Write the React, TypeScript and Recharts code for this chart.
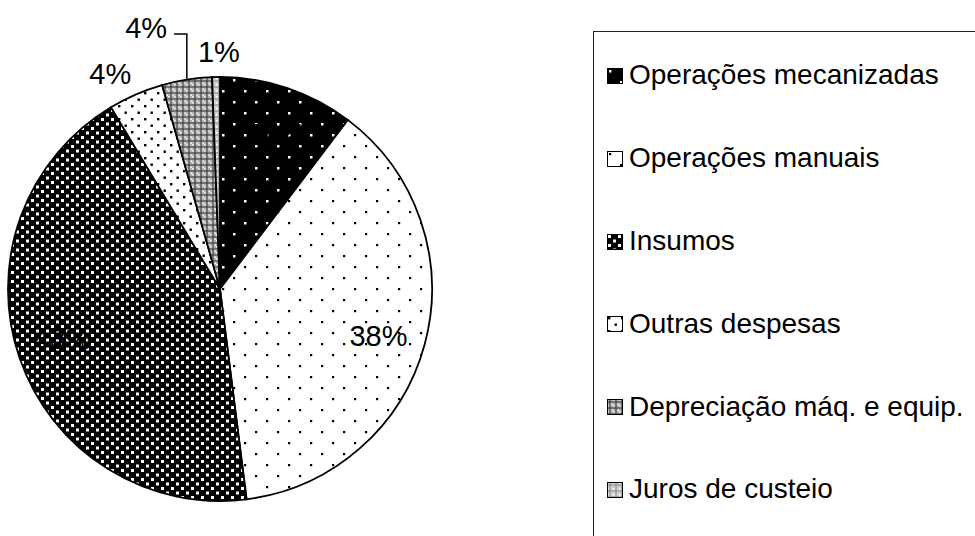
import React from 'react';
import { PieChart, Pie, Cell, Legend } from 'recharts';

const categories = [
  'Operações mecanizadas',
  'Operações manuais',
  'Insumos',
  'Outras despesas',
  'Depreciação máq. e equip.',
  'Juros de custeio'
];
const shares = [10.3, 37.7, 43.4, 4.2, 3.8, 0.6];
const patternIds = ['patMec', 'patMan', 'patIns', 'patOut', 'patDep', 'patJur'];

const data = categories.map((name, i) => ({ name, value: shares[i] }));

const FONT = '"Liberation Sans", Arial, sans-serif';
const RADIAN = Math.PI / 180;

// label radius (x outerRadius) and angle nudge per slice, Excel "best fit" style
const labelPlace = [
  { r: 0.78, shift: -1.6 },
  { r: 0.78, shift: -1.6 },
  { r: 0.78, shift: -1.6 },
  { r: 1.14, shift: 3.6 },
  { r: 1.28, shift: 6.8 },
  { r: 1.12, shift: -0.8 }
];

const renderLabel = (props: any) => {
  const { cx, cy, midAngle, outerRadius, percent, index } = props;
  const p = labelPlace[index];
  const a = (midAngle + p.shift) * RADIAN;
  const x = cx + outerRadius * p.r * Math.cos(a);
  const y = cy - outerRadius * p.r * Math.sin(a);
  const text = `${Math.round(percent * 100)}%`;
  let leader = null;
  if (index === 4) {
    const ex = cx + outerRadius * Math.cos(midAngle * RADIAN);
    const ey = cy - outerRadius * Math.sin(midAngle * RADIAN);
    leader = <polyline points={`${ex},${ey} ${ex},${y + 6} ${x + 28},${y + 6}`} fill="none" stroke="#000" strokeWidth={1.5} />;
  }
  return <g key={`lbl-${index}`}>
      {leader}
      <text x={x} y={y} textAnchor="middle" dominantBaseline="central" fill="#000" fontFamily={FONT} fontSize={29}>
        {text}
      </text>
    </g>;
};

const renderLegend = () => {
  return <div style={{
    boxSizing: 'border-box',
    width: 420,
    height: 540,
    border: '1px solid #222',
    background: '#fff',
    position: 'relative',
    fontFamily: FONT,
    fontSize: 28,
    color: '#000'
  }}>
      {categories.map((name, i) => {
      const base = 85 + 82.8 * i - 32;
      return <div key={name}>
            <svg width={16} height={16} style={{ position: 'absolute', left: 13, top: base - 17 }}>
              <rect x={0.5} y={0.5} width={15} height={15} fill={`url(#${patternIds[i]})`} stroke="#000" strokeWidth={1} />
            </svg>
            <span style={{ position: 'absolute', left: 35, top: base - 23.7, lineHeight: '28px', whiteSpace: 'nowrap' }}>
              {name}
            </span>
          </div>;
    })}
    </div>;
};

export default function App() {
  return <div style={{ position: 'relative', width: 975, height: 536, overflow: 'hidden', background: '#fff' }}>
      <style>{`body{margin:0;overflow:hidden}`}</style>
      <PieChart width={975} height={536} margin={{ top: 0, right: 0, bottom: 0, left: 0 }}>
        <defs>
          <pattern id="patMec" patternUnits="userSpaceOnUse" width={22} height={22}>
            <rect width={22} height={22} fill="#000" />
            <rect x={2} y={2} width={2.5} height={2.5} fill="#fff" />
            <rect x={13} y={13} width={2.5} height={2.5} fill="#fff" />
          </pattern>
          <pattern id="patMan" patternUnits="userSpaceOnUse" width={22} height={22}>
            <rect width={22} height={22} fill="#fff" />
            <rect x={2} y={2} width={2.2} height={2.2} fill="#000" />
            <rect x={13} y={13} width={2.2} height={2.2} fill="#000" />
          </pattern>
          <pattern id="patIns" patternUnits="userSpaceOnUse" width={10} height={9}>
            <rect width={10} height={9} fill="#000" />
            <rect x={1} y={1} width={3} height={3} fill="#fff" />
            <rect x={6} y={5.5} width={3} height={3} fill="#fff" />
          </pattern>
          <pattern id="patOut" patternUnits="userSpaceOnUse" width={13} height={13}>
            <rect width={13} height={13} fill="#fff" />
            <rect x={1} y={1} width={2.4} height={2.4} fill="#000" />
            <rect x={7.5} y={7.5} width={2.4} height={2.4} fill="#000" />
          </pattern>
          <pattern id="patDep" patternUnits="userSpaceOnUse" width={6} height={6}>
            <rect width={6} height={6} fill="#b0b0b0" />
            <rect x={0} y={2.6} width={6} height={0.8} fill="#1a1a1a" />
            <rect x={2.6} y={0} width={0.8} height={6} fill="#1a1a1a" />
            <rect x={0} y={0} width={1.5} height={1.5} fill="#f4f4f4" />
            <rect x={4.5} y={4.5} width={1.5} height={1.5} fill="#f4f4f4" />
          </pattern>
          <pattern id="patJur" patternUnits="userSpaceOnUse" width={6} height={6}>
            <rect width={6} height={6} fill="#d0d0d0" />
            <rect x={0} y={2.6} width={6} height={0.8} fill="#777" />
            <rect x={2.6} y={0} width={0.8} height={6} fill="#777" />
            <rect x={0} y={0} width={1.5} height={1.5} fill="#fff" />
          </pattern>
        </defs>
        <Pie
          data={data}
          dataKey="value"
          nameKey="name"
          cx={220}
          cy={289}
          outerRadius={212}
          startAngle={90}
          endAngle={-270}
          label={renderLabel}
          labelLine={false}
          isAnimationActive={false}
        >
          {data.map((d, i) => <Cell key={d.name} fill={`url(#${patternIds[i]})`} stroke="#000" strokeWidth={1.8} />)}
        </Pie>
        <Legend
          layout="vertical"
          align="right"
          verticalAlign="top"
          wrapperStyle={{ left: 593, top: 31, width: 420, height: 540 }}
          content={renderLegend}
        />
      </PieChart>
    </div>;
}
